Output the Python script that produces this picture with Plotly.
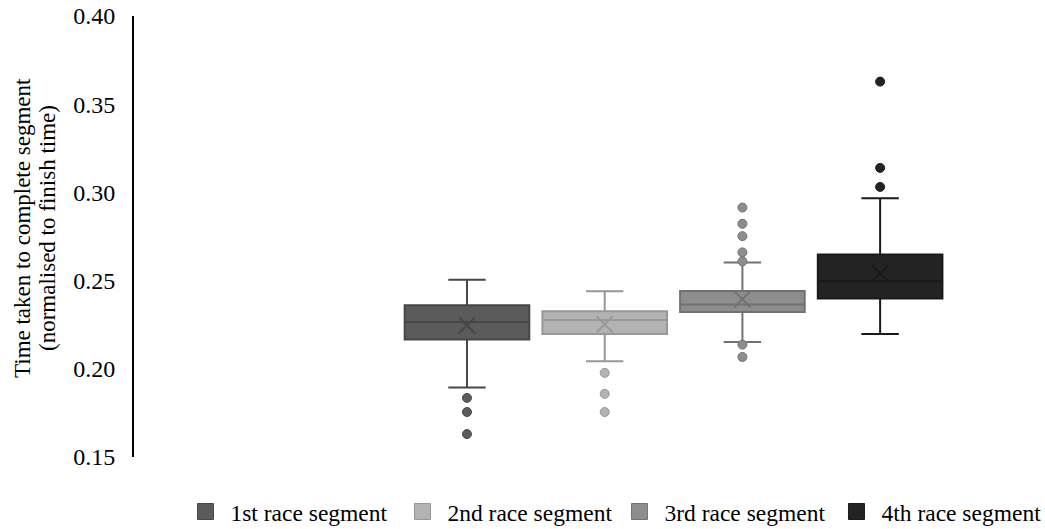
import plotly.graph_objects as go

# ---- data ----
segments = ["1st race segment", "2nd race segment", "3rd race segment", "4th race segment"]
q1_vals = [0.2166, 0.2197, 0.2322, 0.2398]
median_vals = [0.2265, 0.2277, 0.2365, 0.2497]
q3_vals = [0.2360, 0.2326, 0.2441, 0.2648]
lower_whisker = [0.1894, 0.2043, 0.2152, 0.2197]
upper_whisker = [0.2505, 0.2439, 0.2603, 0.2967]
mean_vals = [0.2247, 0.2252, 0.2394, 0.2541]
outliers_1 = [0.1835, 0.1755, 0.1630]
outliers_2 = [0.1977, 0.1858, 0.1755]
outliers_3 = [0.2914, 0.2822, 0.2752, 0.2660, 0.2609, 0.2137, 0.2067]
outliers_4 = [0.3628, 0.3139, 0.3031]
outliers = [outliers_1, outliers_2, outliers_3, outliers_4]
y_ticks = [0.15, 0.20, 0.25, 0.30, 0.35, 0.40]

# ---- styles ----
positions = [1, 2, 3, 4]
fill_colors = ["#5b5b5b", "#b3b3b3", "#8d8d8d", "#232323"]
line_colors = ["#474747", "#979797", "#727272", "#1a1a1a"]
FONT = "Liberation Serif, Times New Roman, serif"

fig = go.Figure()

for i, name in enumerate(segments):
    fig.add_trace(go.Box(
        x=[positions[i]],
        q1=[q1_vals[i]], median=[median_vals[i]], q3=[q3_vals[i]],
        lowerfence=[lower_whisker[i]], upperfence=[upper_whisker[i]],
        width=0.905, whiskerwidth=0.3,
        fillcolor=fill_colors[i],
        line=dict(color=line_colors[i], width=2),
        boxpoints=False, showlegend=False, name=name, hoverinfo="skip",
    ))
    fig.add_trace(go.Scatter(
        x=[positions[i]] * len(outliers[i]), y=outliers[i], mode="markers",
        marker=dict(size=9, color=fill_colors[i], line=dict(color=line_colors[i], width=1)),
        showlegend=False, hoverinfo="skip",
    ))
    fig.add_trace(go.Scatter(
        x=[positions[i]], y=[mean_vals[i]], mode="markers",
        marker=dict(symbol="x-thin", size=16, line=dict(color=line_colors[i], width=2)),
        showlegend=False, hoverinfo="skip",
    ))

# legend entries
for i, name in enumerate(segments):
    fig.add_trace(go.Scatter(
        x=[None], y=[None], mode="markers", name=name,
        marker=dict(symbol="square", size=18, color=fill_colors[i],
                    line=dict(color=line_colors[i], width=1)),
    ))

fig.update_layout(
    width=1045, height=529,
    margin=dict(l=134, r=5, t=16, b=72, autoexpand=False),
    paper_bgcolor="white", plot_bgcolor="white",
    font=dict(family=FONT, size=23, color="#000000"),
    xaxis=dict(range=[-1.418, 5.161], visible=False, showgrid=False, zeroline=False,
               automargin=False),
    yaxis=dict(range=[0.15, 0.40], tickvals=y_ticks, tickformat=".2f",
               showgrid=False, zeroline=False, showline=True, linecolor="#000000",
               linewidth=2, ticks="", ticklabelstandoff=12, automargin=False,
               tickfont=dict(family=FONT, size=24, color="#000000")),
    legend=dict(orientation="h", x=0.0513, xanchor="left", y=-0.174, yanchor="bottom",
                entrywidth=162, entrywidthmode="pixels", itemwidth=40,
                font=dict(family=FONT, size=23.5, color="#000000"),
                itemsizing="trace", bgcolor="rgba(0,0,0,0)"),
    showlegend=True,
)

fig.add_annotation(text="Time taken to complete segment", textangle=-90,
                   xref="paper", yref="paper", x=(22 - 134) / 906, y=(457 - 228) / 441,
                   xanchor="center", yanchor="middle", showarrow=False,
                   font=dict(family=FONT, size=23, color="#000000"))
fig.add_annotation(text="(normalised to finish time)", textangle=-90,
                   xref="paper", yref="paper", x=(47 - 134) / 906, y=(457 - 228) / 441,
                   xanchor="center", yanchor="middle", showarrow=False,
                   font=dict(family=FONT, size=23, color="#000000"))

fig.write_html("out.html", config={"displayModeBar": False},
               post_script="document.body.style.margin='0';")
